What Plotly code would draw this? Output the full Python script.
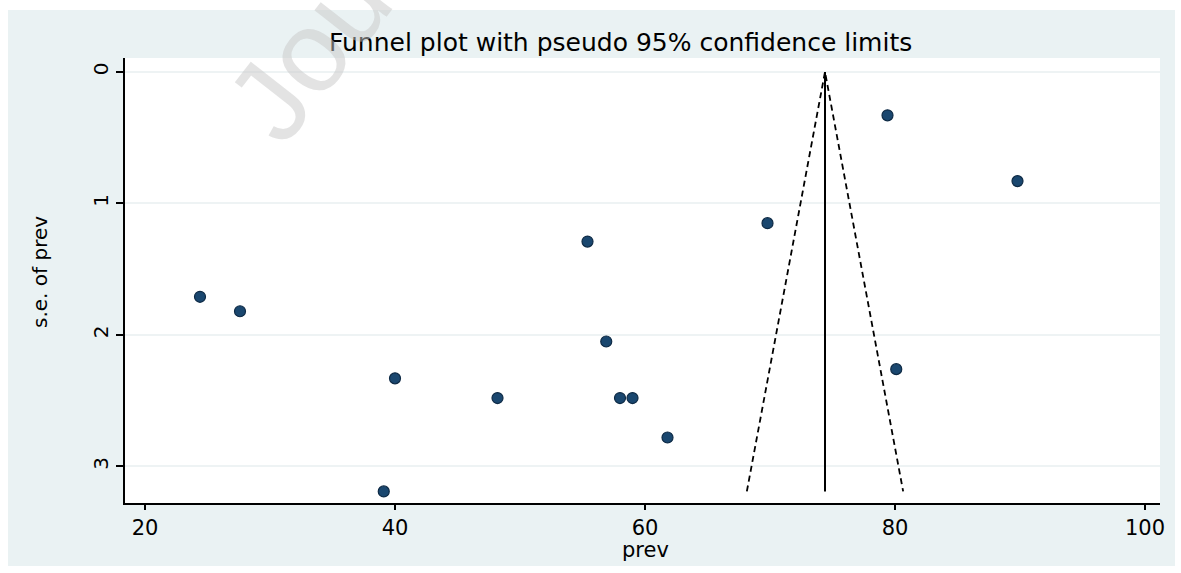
import plotly.graph_objects as go

# Study estimates (prevalence) and their standard errors
prev = [79.4, 89.8, 69.8, 55.4, 24.4, 27.6, 56.9, 80.1, 40.0, 48.2, 58.0, 59.0, 61.8, 39.1]
se_prev = [0.33, 0.83, 1.15, 1.29, 1.71, 1.82, 2.05, 2.26, 2.33, 2.48, 2.48, 2.48, 2.78, 3.19]

# Funnel: pooled estimate and pseudo 95% limits
pooled = 74.4
se_top = 0.0
se_bottom = 3.19
z95 = 1.96

x_ticks = [20, 40, 60, 80, 100]
y_ticks = [0, 1, 2, 3]

W, H = 1181, 573
L, R, T, B = 125, 1160, 58, 503

def px(x):
    return (x - L) / (R - L)

def py(y):
    return (B - y) / (B - T)

FONT = "DejaVu Sans"
NAVY = "#1a476f"

fig = go.Figure()

# funnel limits
fig.add_trace(go.Scatter(
    x=[pooled - z95 * se_bottom, pooled - z95 * se_top, pooled + z95 * se_bottom],
    y=[se_bottom, se_top, se_bottom],
    mode="lines", line=dict(color="black", width=1.8, dash="6px,4px"),
    hoverinfo="skip", showlegend=False))
fig.add_trace(go.Scatter(
    x=[pooled, pooled], y=[se_top, se_bottom],
    mode="lines", line=dict(color="black", width=2),
    hoverinfo="skip", showlegend=False))

# studies
fig.add_trace(go.Scatter(
    x=prev, y=se_prev, mode="markers",
    marker=dict(symbol="circle", size=11, color=NAVY,
                line=dict(color="#0e2a45", width=1.2)),
    showlegend=False))

fig.update_xaxes(
    range=[18.4, 101.2], tickvals=x_ticks, ticks="outside", ticklen=5, tickwidth=1.5,
    tickcolor="black", showline=True, linecolor="black", linewidth=1.6,
    showgrid=False, zeroline=False,
    tickfont=dict(family=FONT, size=21, color="black"))
fig.update_yaxes(
    range=[3.278, -0.106], tickvals=y_ticks, ticks="outside", ticklen=7, tickwidth=1.5,
    tickcolor="black", showline=True, linecolor="black", linewidth=1.6,
    showgrid=True, gridcolor="#eef3f4", gridwidth=1.5, zeroline=False,
    tickangle=-90,
    tickfont=dict(family=FONT, size=20, color="black"))

shapes = []
# white border around the light graph region
for (x0, y0, x1, y1) in [(0, 0, 8, H), (0, 0, W, 10), (0, 566, W, H), (1175, 0, W, H)]:
    shapes.append(dict(type="rect", xref="paper", yref="paper",
                       x0=px(x0), x1=px(x1), y0=py(y1), y1=py(y0),
                       fillcolor="white", line=dict(width=0), layer="above"))

annotations = [
    dict(text="Funnel plot with pseudo 95% confidence limits", x=px(620), y=py(42),
         xref="paper", yref="paper", showarrow=False, xanchor="center", yanchor="middle",
         font=dict(family=FONT, size=25, color="black")),
    dict(text="s.e. of prev", x=px(40), y=py(272), textangle=-90,
         xref="paper", yref="paper", showarrow=False, xanchor="center", yanchor="middle",
         font=dict(family=FONT, size=20, color="black")),
    dict(text="prev", x=px(645), y=py(550),
         xref="paper", yref="paper", showarrow=False, xanchor="center", yanchor="middle",
         font=dict(family=FONT, size=21, color="black")),
    dict(text="Jou", x=px(308), y=py(52), textangle=-52,
         xref="paper", yref="paper", showarrow=False, xanchor="center", yanchor="middle",
         font=dict(family="Liberation Sans", size=115, color="rgba(200,200,200,0.5)")),
]

fig.update_layout(
    width=W, height=H,
    margin=dict(l=L, r=W - R, t=T, b=H - B),
    paper_bgcolor="#eaf2f3", plot_bgcolor="white",
    shapes=shapes, annotations=annotations,
    showlegend=False)

fig.write_html("out.html", config={"displayModeBar": False},
               post_script="document.body.style.margin='0';")
